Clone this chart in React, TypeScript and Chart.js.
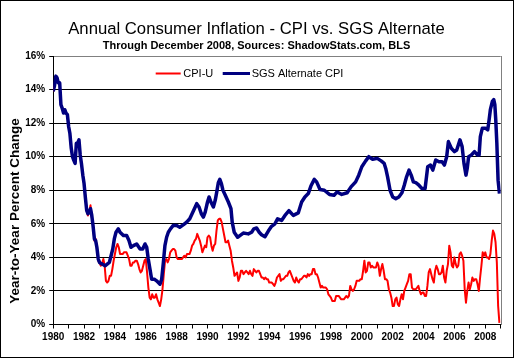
import React, { useEffect, useRef } from "react";
import { Chart, registerables } from "chart.js";

Chart.register(...registerables);

const TITLE = "Annual Consumer Inflation - CPI vs. SGS Alternate";
const SUBTITLE = "Through December 2008, Sources: ShadowStats.com, BLS";
const Y_TITLE = "Year-to-Year Percent Change";
const SERIES_NAMES = ["CPI-U", "SGS Alternate CPI"];
const SERIES_COLORS = ["#FF0000", "#000080"];

const START_YEAR = 1980;
const X_MIN = 1980;
const X_MAX = 2009;
const Y_MIN = 0;
const Y_MAX = 16;
const Y_STEP = 2;

// CPI-U, year-over-year %, monthly Jan 1980 .. Dec 2008
const cpiU = [
  13.9, 14.2, 14.8, 14.7, 14.4, 14.4, 13.1, 12.9, 12.6, 12.8, 12.6, 12.5,
  11.8, 11.4, 10.5, 10.0, 9.8, 9.6, 10.8, 10.8, 11.0, 10.1, 9.6, 8.9,
  8.4, 7.6, 6.8, 6.5, 6.7, 7.1, 6.4, 5.9, 5.0, 5.1, 4.6, 3.8,
  3.7, 3.5, 3.6, 3.9, 3.5, 2.6, 2.5, 2.6, 2.9, 2.9, 3.3, 3.8,
  4.2, 4.6, 4.8, 4.6, 4.2, 4.2, 4.2, 4.3, 4.3, 4.3, 4.1, 3.9,
  3.5, 3.5, 3.7, 3.7, 3.8, 3.8, 3.6, 3.3, 3.1, 3.2, 3.5, 3.8,
  3.9, 3.1, 2.2, 1.6, 1.5, 1.8, 1.6, 1.6, 1.8, 1.5, 1.3, 1.1,
  1.5, 2.1, 3.0, 3.8, 3.9, 3.7, 3.9, 4.3, 4.4, 4.5, 4.5, 4.4,
  4.0, 3.9, 3.9, 3.9, 3.9, 4.0, 4.1, 4.0, 4.2, 4.2, 4.2, 4.4,
  4.7, 4.8, 5.0, 5.1, 5.4, 5.2, 5.0, 4.7, 4.3, 4.5, 4.7, 4.6,
  5.2, 5.3, 5.2, 4.7, 4.4, 4.7, 4.8, 5.6, 6.2, 6.3, 6.3, 6.1,
  5.7, 5.3, 4.9, 4.9, 5.0, 4.7, 4.4, 3.8, 3.4, 2.9, 3.0, 3.1,
  2.6, 2.8, 3.2, 3.2, 3.0, 3.1, 3.2, 3.1, 3.0, 3.2, 3.0, 2.9,
  3.3, 3.2, 3.1, 3.2, 3.2, 3.0, 2.8, 2.8, 2.7, 2.8, 2.7, 2.7,
  2.5, 2.5, 2.5, 2.4, 2.3, 2.5, 2.8, 2.9, 3.0, 2.6, 2.7, 2.7,
  2.8, 2.9, 2.9, 3.1, 3.2, 3.0, 2.8, 2.6, 2.5, 2.8, 2.6, 2.5,
  2.7, 2.7, 2.8, 2.9, 2.9, 2.8, 3.0, 2.9, 3.0, 3.0, 3.3, 3.3,
  3.0, 3.0, 2.8, 2.5, 2.2, 2.3, 2.2, 2.2, 2.2, 2.1, 1.8, 1.7,
  1.6, 1.4, 1.4, 1.4, 1.7, 1.7, 1.7, 1.6, 1.5, 1.5, 1.5, 1.6,
  1.7, 1.6, 1.7, 2.3, 2.1, 2.0, 2.1, 2.3, 2.6, 2.6, 2.6, 2.7,
  2.7, 3.2, 3.8, 3.1, 3.2, 3.7, 3.7, 3.4, 3.5, 3.4, 3.4, 3.4,
  3.7, 3.5, 2.9, 3.3, 3.6, 3.2, 2.7, 2.7, 2.6, 2.1, 1.9, 1.6,
  1.1, 1.1, 1.5, 1.6, 1.2, 1.1, 1.5, 1.8, 1.5, 2.0, 2.2, 2.4,
  2.6, 3.0, 3.0, 2.2, 2.1, 2.1, 2.1, 2.2, 2.3, 2.0, 1.8, 1.9,
  1.9, 1.7, 1.7, 2.3, 3.1, 3.3, 3.0, 2.7, 2.5, 3.2, 3.5, 3.3,
  3.0, 3.0, 3.1, 3.5, 2.8, 2.5, 3.2, 3.6, 4.7, 4.3, 3.5, 3.4,
  4.0, 3.6, 3.4, 3.5, 4.2, 4.3, 4.1, 3.8, 2.1, 1.3, 2.0, 2.5,
  2.1, 2.4, 2.8, 2.6, 2.7, 2.7, 2.4, 2.0, 2.8, 3.5, 4.3, 4.1,
  4.3, 4.0, 4.0, 3.9, 4.2, 5.0, 5.6, 5.4, 4.9, 3.7, 1.1, 0.1,
];

// SGS Alternate CPI at these dates (decimal years)
const sgsDates = [
  1980.0, 1980.08, 1980.17, 1980.25, 1980.33, 1980.42, 1980.5, 1980.58, 1980.67, 1980.75, 1980.83, 1980.92,
  1981.0, 1981.08, 1981.17, 1981.25, 1981.33, 1981.42, 1981.5, 1981.58, 1981.67, 1981.75, 1981.83, 1981.92,
  1982.0, 1982.08, 1982.17, 1982.25, 1982.33, 1982.42, 1982.5, 1982.58, 1982.67, 1982.75, 1982.83, 1982.92,
  1983.0, 1983.17, 1983.36, 1983.5, 1983.64, 1983.75, 1983.86, 1983.96,
  1984.07, 1984.22, 1984.33, 1984.55, 1984.76, 1984.91,
  1985.04, 1985.2, 1985.41, 1985.63, 1985.8, 1985.95,
  1986.06, 1986.16, 1986.27, 1986.38, 1986.55, 1986.7, 1986.92,
  1987.03, 1987.14, 1987.24, 1987.35, 1987.46, 1987.6, 1987.78,
  1988.0, 1988.2, 1988.45, 1988.65, 1988.85,
  1989.0, 1989.15, 1989.3, 1989.45, 1989.6, 1989.73, 1989.85,
  1990.0, 1990.1, 1990.22, 1990.38, 1990.5, 1990.6, 1990.7, 1990.8, 1990.9,
  1991.0, 1991.13, 1991.35, 1991.52, 1991.6, 1991.73, 1991.95,
  1992.1, 1992.32, 1992.64, 1992.86,
  1993.0, 1993.18, 1993.35, 1993.5, 1993.72, 1993.94,
  1994.15, 1994.37, 1994.54, 1994.8,
  1995.02, 1995.28, 1995.56, 1995.88,
  1996.1, 1996.31, 1996.53, 1996.7, 1996.92,
  1997.07, 1997.29, 1997.57, 1997.9,
  1998.2, 1998.4, 1998.7,
  1999.05, 1999.3, 1999.6, 1999.8,
  2000.0, 2000.25, 2000.45, 2000.7,
  2001.0, 2001.25, 2001.45, 2001.55, 2001.67, 2001.83,
  2002.0, 2002.2, 2002.4, 2002.6, 2002.75, 2002.9,
  2003.06, 2003.2, 2003.34, 2003.5, 2003.7, 2003.9,
  2004.1, 2004.27, 2004.45, 2004.6, 2004.79,
  2005.0, 2005.2, 2005.35, 2005.5, 2005.61, 2005.8,
  2006.0, 2006.15, 2006.36, 2006.5, 2006.62, 2006.75, 2006.83, 2006.92,
  2007.1, 2007.3, 2007.5, 2007.6, 2007.68, 2007.81,
  2008.0, 2008.16, 2008.25, 2008.33, 2008.46, 2008.55, 2008.62, 2008.68, 2008.75, 2008.83, 2008.92,
];
const sgsValues = [
  13.9, 14.2, 14.8, 14.7, 14.4, 14.4, 13.1, 12.9, 12.6, 12.8, 12.6, 12.5,
  11.8, 11.4, 10.5, 10.0, 9.8, 9.6, 10.8, 10.8, 11.0, 10.1, 9.6, 8.9,
  8.4, 7.6, 6.8, 6.6, 6.7, 6.9, 6.5, 5.9, 5.1, 5.0, 4.6, 3.9,
  3.7, 3.6, 3.5, 3.6, 3.7, 4.1, 4.5, 5.1,
  5.5, 5.7, 5.5, 5.3, 5.3, 5.0,
  4.6, 4.7, 4.8, 4.5, 4.5, 4.8,
  4.6, 3.9, 3.3, 2.7, 2.7, 2.6, 2.4,
  2.7, 3.7, 4.7, 5.2, 5.5, 5.7, 5.9,
  5.9, 5.8, 5.95, 6.1, 6.3,
  6.6, 6.9, 7.2, 7.0, 6.6, 6.4, 6.7,
  7.3, 7.6, 7.3, 7.0, 7.4, 7.9, 8.45, 8.65, 8.4,
  8.0, 7.75, 7.3, 6.9, 6.1, 5.5, 5.2,
  5.3, 5.45, 5.4, 5.5,
  5.7, 5.75, 5.5, 5.35, 5.23, 5.57,
  5.85, 6.0, 6.3, 6.2,
  6.5, 6.78, 6.5, 6.65,
  7.3, 7.6, 7.8, 8.25, 8.65,
  8.5, 8.05, 8.0, 7.75,
  7.7, 7.9, 7.75,
  7.85, 8.2, 8.5, 8.9,
  9.4, 9.75, 10.0, 9.85,
  9.9, 9.75, 9.6, 9.3, 8.8, 8.0,
  7.6, 7.5, 7.6, 7.85, 8.3, 8.8,
  9.2, 8.9, 8.5, 8.45, 8.3, 8.1,
  8.1, 9.4, 9.5, 9.2, 9.8,
  9.7, 9.7, 9.5, 10.0, 10.9, 10.5,
  10.3, 10.4, 11.0, 10.6, 9.6, 8.9, 9.3, 10.0,
  10.1, 10.3, 10.1, 10.1, 11.2, 11.7,
  11.7, 11.6, 12.2, 12.8, 13.3, 13.4, 13.1, 12.2, 10.8, 8.6, 7.8,
];

const FONT = "'Liberation Sans', Arial, Helvetica, sans-serif";

const decorPlugin = {
  id: "decor",
  beforeDatasetsDraw(chart: any) {
    const { ctx, chartArea } = chart;
    ctx.save();
    ctx.strokeStyle = "#808080";
    ctx.lineWidth = 1;
    const rx = Math.round(chartArea.right) + 0.5;
    ctx.beginPath();
    ctx.moveTo(rx, Math.round(chartArea.top));
    ctx.lineTo(rx, Math.round(chartArea.bottom));
    ctx.stroke();
    ctx.restore();
  },
  afterDraw(chart: any) {
    const { ctx } = chart;
    ctx.save();
    ctx.fillStyle = "#000";
    ctx.textAlign = "center";
    ctx.textBaseline = "alphabetic";
    ctx.font = `16.7px ${FONT}`;
    ctx.fillText(TITLE, 255.5, 32.5);
    ctx.font = `bold 11px ${FONT}`;
    ctx.fillText(SUBTITLE, 255.5, 48);

    // y-axis title
    ctx.save();
    ctx.translate(14.5, 210);
    ctx.rotate(-Math.PI / 2);
    ctx.font = `bold 13.5px ${FONT}`;
    ctx.textAlign = "center";
    ctx.textBaseline = "middle";
    ctx.fillText(Y_TITLE, 0, 0);
    ctx.restore();

    // legend
    const ly = 72.5;
    ctx.font = `11px ${FONT}`;
    ctx.textAlign = "left";
    ctx.textBaseline = "middle";
    const items = [
      { x0: 154.7, x1: 179.7, tx: 182.3, w: 2 },
      { x0: 221.7, x1: 249, tx: 250.7, w: 3 },
    ];
    items.forEach((it, i) => {
      ctx.strokeStyle = SERIES_COLORS[i];
      ctx.lineWidth = it.w;
      ctx.beginPath();
      ctx.moveTo(it.x0, ly);
      ctx.lineTo(it.x1, ly);
      ctx.stroke();
      ctx.fillStyle = "#000";
      ctx.fillText(SERIES_NAMES[i], it.tx, ly + 0.5);
    });
    ctx.restore();
  },
};

export default function App() {
  const ref = useRef<HTMLCanvasElement>(null);

  useEffect(() => {
    document.body.style.margin = "0";
    const canvas = ref.current;
    if (!canvas) return;

    const cpiPoints = cpiU.map((v, i) => ({ x: START_YEAR + i / 12, y: v }));
    const sgsPoints = sgsDates.map((d, i) => ({ x: d, y: sgsValues[i] }));

    const chart = new Chart(canvas, {
      type: "line",
      data: {
        datasets: [
          {
            label: SERIES_NAMES[0],
            data: cpiPoints,
            borderColor: SERIES_COLORS[0],
            backgroundColor: SERIES_COLORS[0],
            borderWidth: 2,
            pointRadius: 0,
            tension: 0,
            borderJoinStyle: "round",
            order: 1,
          },
          {
            label: SERIES_NAMES[1],
            data: sgsPoints,
            borderColor: SERIES_COLORS[1],
            backgroundColor: SERIES_COLORS[1],
            borderWidth: 3.5,
            pointRadius: 0,
            tension: 0,
            borderJoinStyle: "round",
            order: 0,
          },
        ],
      },
      options: {
        animation: false,
        responsive: false,
        devicePixelRatio: 1,
        layout: { padding: { top: 55, right: 12.3, bottom: 0, left: 0 } },
        plugins: {
          legend: { display: false },
          title: { display: false },
          tooltip: { enabled: false },
        },
        scales: {
          x: {
            type: "linear",
            min: X_MIN,
            max: X_MAX,
            afterFit: (s: any) => {
              s.height = 32.5;
            },
            ticks: {
              stepSize: 1,
              autoSkip: false,
              maxRotation: 0,
              minRotation: 0,
              padding: 3,
              color: "#000",
              font: { family: FONT, size: 10, weight: "bold" },
              callback: (v: any) => (Number(v) % 2 === 0 && Number(v) < X_MAX ? String(v) : ""),
            },
            grid: {
              drawOnChartArea: false,
              drawTicks: true,
              tickLength: 4,
              color: "#000",
              lineWidth: 1,
            },
            border: { display: true, color: "#000", width: 1 },
          },
          y: {
            min: Y_MIN,
            max: Y_MAX,
            afterFit: (s: any) => {
              s.width = 52.2;
            },
            ticks: {
              stepSize: Y_STEP,
              padding: 4,
              color: "#000",
              font: { family: FONT, size: 10, weight: "bold" },
              callback: (v: any) => `${v}%`,
            },
            grid: {
              color: (c: any) => (c.tick && c.tick.value === Y_MAX ? "#808080" : "#000"),
              tickColor: "#000",
              lineWidth: 1,
              tickLength: 4,
              drawTicks: true,
            },
            border: { display: true, color: "#000", width: 1 },
          },
        },
      },
      plugins: [decorPlugin],
    } as any);

    return () => chart.destroy();
  }, []);

  return (
    <div
      style={{
        width: 514,
        height: 358,
        boxSizing: "border-box",
        border: "1px solid #000",
        background: "#fff",
        position: "relative",
      }}
    >
      <canvas ref={ref} width={512} height={356} style={{ display: "block", width: 512, height: 356 }} />
    </div>
  );
}
